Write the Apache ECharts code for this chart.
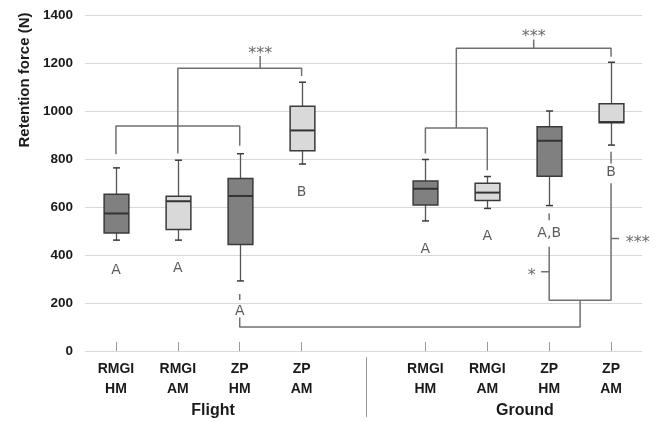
<!DOCTYPE html>
<html>
<head>
<meta charset="utf-8">
<script src="https://cdn.jsdelivr.net/npm/echarts@6/dist/echarts.min.js"></script>
<style>
  html, body { margin: 0; padding: 0; background: #fff; }
  #chart { width: 658px; height: 422px; }
</style>
</head>
<body>
<div id="chart"></div>
<script>
// categories (index 4 is the empty gap between Flight and Ground)
const categories = ['RMGI\nHM', 'RMGI\nAM', 'ZP\nHM', 'ZP\nAM', '', 'RMGI\nHM', 'RMGI\nAM', 'ZP\nHM', 'ZP\nAM'];
const yTicks = [0, 200, 400, 600, 800, 1000, 1200, 1400];

// box statistics, per category slot
const mins    = [462, 462, 292, 779, null, 542, 594, 606, 858];
const q1s     = [492, 506, 444, 834, null, 608, 627, 728, 951];
const medians = [573, 624, 646, 919, null, 676, 660, 876, 954];
const q3s     = [653, 645, 719, 1020, null, 708, 699, 934, 1030];
const maxs    = [763, 795, 822, 1120, null, 798, 727, 1000, 1203];
const shades  = ['dark', 'light', 'dark', 'light', null, 'dark', 'light', 'dark', 'light'];

// significance letters / stars  [slot position, value, text]
const letterX    = [0, 1, 2, 3, 5, 6, 7, 8];
const letterY    = [337, 346, 165, 663, 423, 478, 490, 744];
const letterText = ['A', 'A', 'A', 'B', 'A', 'A', 'A,B', 'B'];
const starX    = [2.33, 6.75, 8.43, 6.72];
const starY    = [1254, 1324, 469, 330];
const starText = ['***', '***', '***', '*'];

// comparison brackets, in slot position / force units
const brackets = [
  [[0, 820], [0, 937], [2, 937], [2, 855]],
  [[1, 823], [1, 1178], [3, 1178], [3, 1146]],
  [[2.33, 1178], [2.33, 1229]],
  [[5, 823], [5, 929], [6, 929], [6, 753]],
  [[5.5, 929], [5.5, 1261], [8, 1261], [8, 1226]],
  [[6.75, 1261], [6.75, 1298]],
  [[2, 238], [2, 212]],
  [[2, 140], [2, 100], [7.5, 100], [7.5, 211]],
  [[7, 573], [7, 545]],
  [[7, 434], [7, 211], [8, 211], [8, 699]],
  [[8, 830], [8, 781]],
  [[6.87, 330], [7, 330]],
  [[8, 469], [8.13, 469]]
];

const fills = { dark: '#808080', light: '#d9d9d9' };

const boxData = [];
categories.forEach((c, i) => {
  if (mins[i] == null) return;
  boxData.push([i, mins[i], q1s[i], medians[i], q3s[i], maxs[i], shades[i]]);
});

const chart = echarts.init(document.getElementById('chart'));

function renderBox(params, api) {
  const x = api.value(0);
  const lo = api.coord([x, api.value(1)]);
  const q1 = api.coord([x, api.value(2)]);
  const med = api.coord([x, api.value(3)]);
  const q3 = api.coord([x, api.value(4)]);
  const hi = api.coord([x, api.value(5)]);
  const shade = boxData[params.dataIndex][6];
  const w = api.size([1, 0])[0] * 0.4;
  const cx = Math.round(q1[0]) + 0.5;
  const cap = 3.5;
  const whisker = { stroke: '#555', lineWidth: 1.3 };
  const dark = { stroke: '#3a3a3a', lineWidth: 1.5 };
  return {
    type: 'group',
    children: [
      { type: 'line', shape: { x1: cx, y1: hi[1], x2: cx, y2: q3[1] }, style: whisker },
      { type: 'line', shape: { x1: cx, y1: q1[1], x2: cx, y2: lo[1] }, style: whisker },
      { type: 'line', shape: { x1: cx - cap, y1: hi[1], x2: cx + cap, y2: hi[1] }, style: dark },
      { type: 'line', shape: { x1: cx - cap, y1: lo[1], x2: cx + cap, y2: lo[1] }, style: dark },
      { type: 'rect', shape: { x: cx - w / 2, y: q3[1], width: w, height: q1[1] - q3[1] },
        style: { fill: fills[shade], stroke: '#3a3a3a', lineWidth: 1.5 } },
      { type: 'line', shape: { x1: cx - w / 2, y1: med[1], x2: cx + w / 2, y2: med[1] },
        style: { stroke: '#333', lineWidth: 2 } }
    ]
  };
}

const bracketSeries = brackets.map(pts => ({
  type: 'line',
  xAxisIndex: 1,
  data: pts,
  symbol: 'none',
  silent: true,
  z: 3,
  lineStyle: { color: '#707070', width: 1.5 }
}));

const textSeries = (xs, ys, texts, style) => ({
  type: 'scatter',
  xAxisIndex: 1,
  symbolSize: 1,
  itemStyle: { color: 'rgba(0,0,0,0)' },
  silent: true,
  z: 5,
  data: xs.map((x, i) => [x, ys[i], texts[i]]),
  label: Object.assign({
    show: true,
    position: 'inside',
    formatter: p => p.data[2]
  }, style)
});

const option = {
  animation: false,
  grid: { left: 85, right: 16, top: 15, bottom: 71 },
  xAxis: [
    {
      type: 'category',
      data: categories,
      axisLine: { show: false },
      axisTick: {
        show: true,
        inside: true,
        length: 9,
        alignWithLabel: true,
        interval: (idx, val) => val !== '',
        lineStyle: { color: '#999' }
      },
      axisLabel: {
        interval: 0,
        margin: 8,
        color: '#1a1a1a',
        fontWeight: 'bold',
        fontSize: 14,
        lineHeight: 20,
        fontFamily: 'Liberation Sans'
      }
    },
    {
      type: 'value',
      min: -0.5,
      max: 8.5,
      show: false
    }
  ],
  yAxis: {
    type: 'value',
    min: yTicks[0],
    max: yTicks[yTicks.length - 1],
    interval: 200,
    axisLine: { show: false },
    axisTick: { show: false },
    splitLine: { lineStyle: { color: '#d9d9d9', width: 1 } },
    axisLabel: {
      margin: 12,
      color: '#1a1a1a',
      fontWeight: 'bold',
      fontSize: 13.5,
      fontFamily: 'Liberation Sans',
      formatter: v => String(v)
    }
  },
  graphic: [
    {
      type: 'text',
      x: 25, y: 80,
      rotation: Math.PI / 2,
      style: {
        text: 'Retention force (N)',
        fontSize: 15,
        fontWeight: 'bold',
        fontFamily: 'Liberation Sans',
        fill: '#1a1a1a',
        align: 'center',
        verticalAlign: 'middle'
      }
    },
    {
      type: 'text', x: 213, y: 411,
      style: { text: 'Flight', fontSize: 16, fontWeight: 'bold', fontFamily: 'Liberation Sans',
        fill: '#1a1a1a', align: 'center', verticalAlign: 'middle' }
    },
    {
      type: 'text', x: 525, y: 411,
      style: { text: 'Ground', fontSize: 16, fontWeight: 'bold', fontFamily: 'Liberation Sans',
        fill: '#1a1a1a', align: 'center', verticalAlign: 'middle' }
    },
    {
      type: 'line',
      shape: { x1: 366.5, y1: 357, x2: 366.5, y2: 417 },
      style: { stroke: '#999', lineWidth: 1 }
    }
  ],
  series: [
    {
      type: 'custom',
      xAxisIndex: 1,
      renderItem: renderBox,
      encode: { x: 0, y: [1, 2, 3, 4, 5] },
      data: boxData,
      z: 4
    },
    ...bracketSeries,
    textSeries(letterX, letterY, letterText, {
      fontSize: 14, color: '#333', fontFamily: 'DejaVu Sans'
    }),
    textSeries(starX, starY, starText, {
      fontSize: 16, color: '#444', fontFamily: 'DejaVu Sans', offset: [0, 4]
    })
  ]
};

chart.setOption(option);
</script>
</body>
</html>
